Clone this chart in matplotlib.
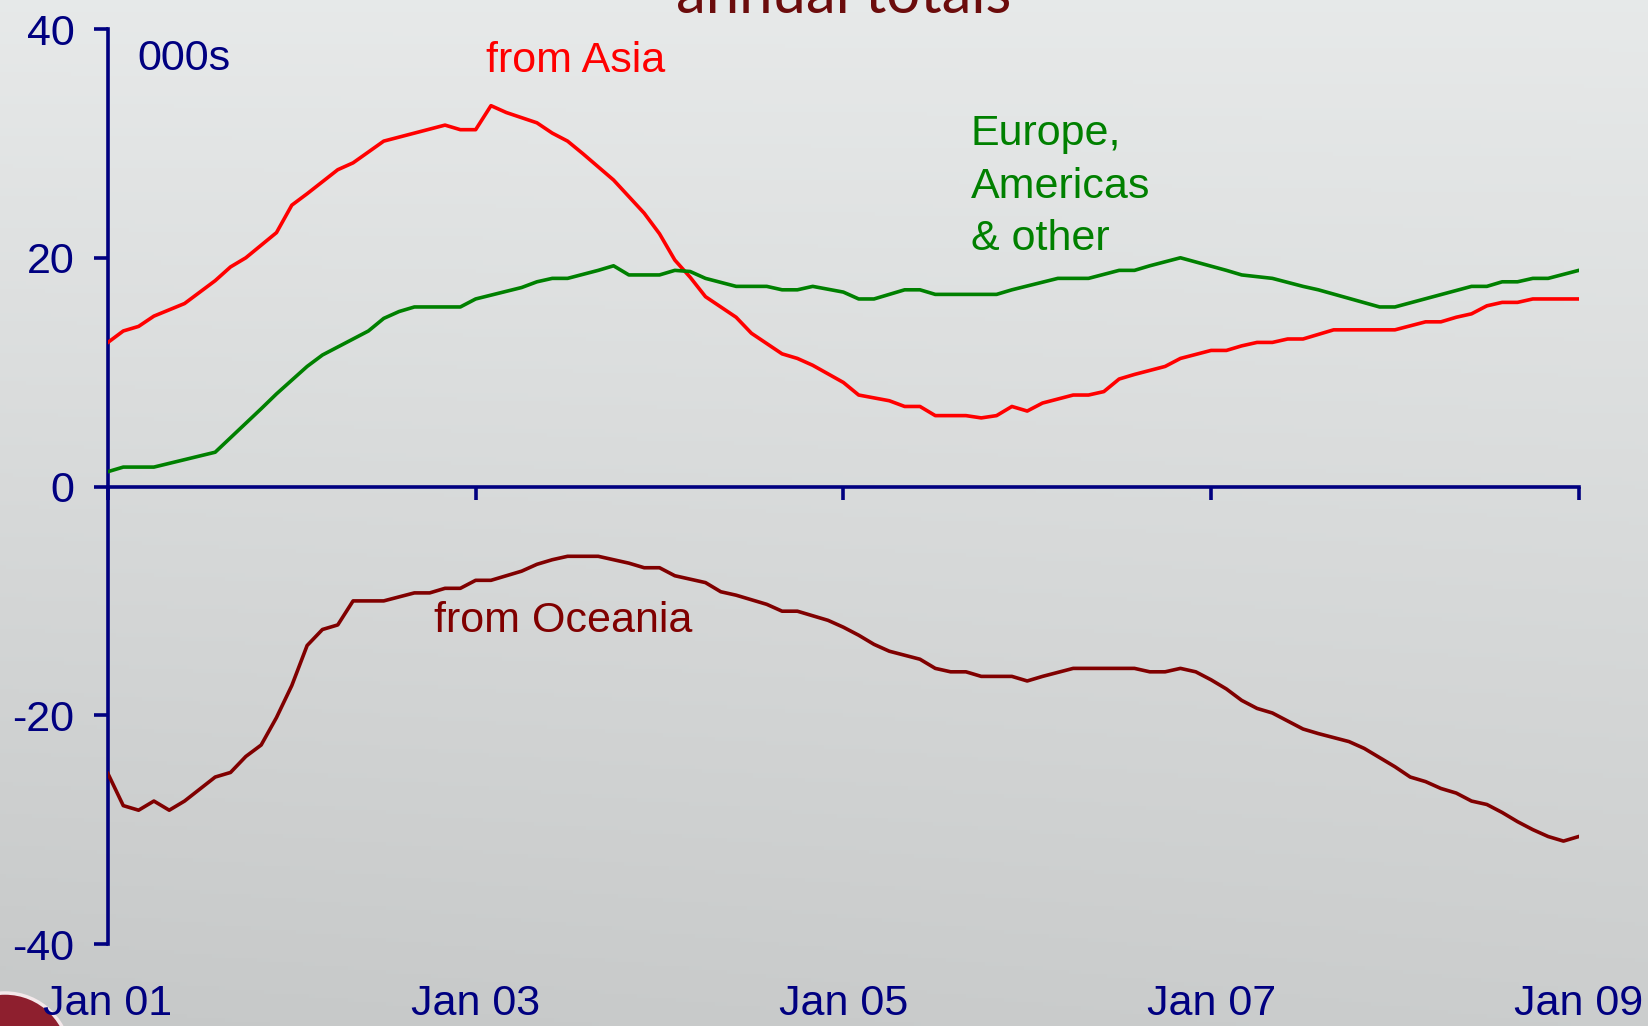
"""
Migration flows by source region, annual totals (000s), Jan 01 - Jan 09.
Recreated slide chart with matplotlib.
"""

import numpy as np
import matplotlib
matplotlib.use("Agg")
import matplotlib.pyplot as plt
from matplotlib.patches import Circle

# months since Jan 01, values in thousands
asia_months = [0, 1, 2, 3, 5, 7, 8, 9, 11, 12, 13, 15, 16, 18, 22, 23, 24, 25, 26,
               28, 29, 30, 31, 33, 35, 36, 37, 38, 39, 41, 42, 44, 45, 46, 48, 49,
               51, 52, 53, 54, 56, 57, 58, 59, 60, 61, 63, 64, 65, 66, 67, 69, 70,
               72, 73, 74, 75, 76, 77, 78, 79, 80, 84, 86, 87, 88, 89, 90, 91, 92,
               93, 96]
asia_values = [12.6, 13.6, 14.0, 14.9, 16.0, 18.0, 19.2, 20.0, 22.2, 24.6, 25.6,
               27.7, 28.3, 30.2, 31.6, 31.2, 31.2, 33.3, 32.7, 31.8, 30.9, 30.2,
               29.1, 26.8, 23.9, 22.1, 19.8, 18.3, 16.6, 14.8, 13.4, 11.6, 11.2,
               10.6, 9.1, 8.0, 7.5, 7.0, 7.0, 6.2, 6.2, 6.0, 6.2, 7.0, 6.6, 7.3,
               8.0, 8.0, 8.3, 9.4, 9.8, 10.5, 11.2, 11.9, 11.9, 12.3, 12.6, 12.6,
               12.9, 12.9, 13.3, 13.7, 13.7, 14.4, 14.4, 14.8, 15.1, 15.8, 16.1,
               16.1, 16.4, 16.4]

europe_months = [0, 1, 3, 7, 10, 11, 13, 14, 17, 18, 19, 20, 23, 24, 27, 28, 29,
                 30, 32, 33, 34, 36, 37, 38, 39, 41, 43, 44, 45, 46, 48, 49, 50,
                 52, 53, 54, 58, 59, 62, 64, 66, 67, 68, 70, 73, 74, 76, 78, 79,
                 83, 84, 89, 90, 91, 92, 93, 94, 96]
europe_values = [1.3, 1.7, 1.7, 3.0, 6.8, 8.1, 10.5, 11.5, 13.6, 14.7, 15.3, 15.7,
                 15.7, 16.4, 17.4, 17.9, 18.2, 18.2, 18.9, 19.3, 18.5, 18.5, 18.9,
                 18.8, 18.2, 17.5, 17.5, 17.2, 17.2, 17.5, 17.0, 16.4, 16.4, 17.2,
                 17.2, 16.8, 16.8, 17.2, 18.2, 18.2, 18.9, 18.9, 19.3, 20.0, 18.9,
                 18.5, 18.2, 17.5, 17.2, 15.7, 15.7, 17.5, 17.5, 17.9, 17.9, 18.2,
                 18.2, 18.9]

oceania_months = [0, 1, 2, 3, 4, 5, 7, 8, 9, 10, 11, 12, 13, 14, 15, 16, 18, 20,
                  21, 22, 23, 24, 25, 27, 28, 29, 30, 32, 33, 34, 35, 36, 37, 39,
                  40, 41, 43, 44, 45, 46, 47, 48, 49, 50, 51, 53, 54, 55, 56, 57,
                  59, 60, 61, 63, 64, 67, 68, 69, 70, 71, 72, 73, 74, 75, 76, 78,
                  79, 81, 82, 83, 84, 85, 86, 87, 88, 89, 90, 91, 92, 93, 94, 95, 96]
oceania_values = [-25.1, -27.9, -28.3, -27.5, -28.3, -27.5, -25.4, -25.0, -23.6,
                  -22.6, -20.2, -17.4, -13.9, -12.5, -12.1, -10.0, -10.0, -9.3,
                  -9.3, -8.9, -8.9, -8.2, -8.2, -7.4, -6.8, -6.4, -6.1, -6.1, -6.4,
                  -6.7, -7.1, -7.1, -7.8, -8.4, -9.2, -9.5, -10.3, -10.9, -10.9,
                  -11.3, -11.7, -12.3, -13.0, -13.8, -14.4, -15.1, -15.9, -16.2,
                  -16.2, -16.6, -16.6, -17.0, -16.6, -15.9, -15.9, -15.9, -16.2,
                  -16.2, -15.9, -16.2, -16.9, -17.7, -18.7, -19.4, -19.8, -21.2,
                  -21.6, -22.3, -22.9, -23.7, -24.5, -25.4, -25.8, -26.4, -26.8,
                  -27.5, -27.8, -28.5, -29.3, -30.0, -30.6, -31.0, -30.6]

x_tick_months = [0, 24, 48, 72, 96]
x_tick_labels = ["Jan 01", "Jan 03", "Jan 05", "Jan 07", "Jan 09"]
y_ticks = [-40, -20, 0, 20, 40]

NAVY = "#000080"
FONT = ["Liberation Sans", "DejaVu Sans"]
LW = 2.6


def main():
    plt.rcParams["font.family"] = FONT
    plt.rcParams["axes.unicode_minus"] = False
    fig = plt.figure(figsize=(16.48, 10.26), dpi=100)

    # slide background: soft grey gradient
    bg = fig.add_axes([0, 0, 1, 1], zorder=0)
    yy = np.linspace(0, 1, 256)[:, None]
    xx = np.linspace(0, 1, 256)[None, :]
    shade = 0.915 - 0.13 * yy + 0.02 * xx * yy
    bg.imshow(np.dstack([shade * 0.99, shade, shade]), aspect="auto",
              extent=[0, 1, 0, 1], origin="upper")
    bg.set_axis_off()
    # corner ornament of the slide template
    bg.add_patch(Circle((0.05, -0.32), 0.65, transform=fig.dpi_scale_trans,
                        facecolor="#8e1f2e", edgecolor="#f4e8ea", lw=2.5,
                        clip_on=False, zorder=5))

    ax = fig.add_axes([0.0655, 0.0799, 0.8925, 0.8918], zorder=2)
    ax.patch.set_alpha(0)

    ax.plot(asia_months, asia_values, color="#ff0000", lw=LW, zorder=3)
    ax.plot(europe_months, europe_values, color="#008000", lw=LW, zorder=3)
    ax.plot(oceania_months, oceania_values, color="#800000", lw=LW, zorder=3)

    ax.set_xlim(0, 96)
    ax.set_ylim(-40, 40)

    for side in ["top", "right"]:
        ax.spines[side].set_visible(False)
    ax.spines["bottom"].set_position(("data", 0))
    for side in ["left", "bottom"]:
        ax.spines[side].set_color(NAVY)
        ax.spines[side].set_linewidth(LW)

    ax.set_yticks(y_ticks)
    ax.tick_params(axis="y", colors=NAVY, labelsize=31, length=10, width=LW,
                   pad=14, direction="out")
    ax.set_xticks(x_tick_months)
    ax.tick_params(axis="x", colors=NAVY, length=9, width=LW, direction="out",
                   labelbottom=False)

    # month labels sit below the plot, not on the zero line
    sec = ax.secondary_xaxis(0.0)
    sec.spines["bottom"].set_visible(False)
    sec.set_xticks(x_tick_months)
    sec.set_xticklabels(x_tick_labels)
    sec.tick_params(axis="x", colors=NAVY, labelsize=31, length=0, pad=29)

    ax.text(1.9, 37.4, "000s", color=NAVY, fontsize=31, va="center")
    ax.text(24.7, 37.2, "from Asia", color="#ff0000", fontsize=31, va="center")
    ax.text(56.3, 26.2, "Europe,\nAmericas\n& other", color="#008000", fontsize=31,
            va="center", linespacing=1.4)
    ax.text(21.3, -11.8, "from Oceania", color="#800000", fontsize=31, va="center")

    fig.text(0.512, 0.987, "annual totals", color="#6b0c0c", fontsize=43,
             family=["Lato", "DejaVu Sans"], ha="center", va="baseline", zorder=3)

    fig.savefig("out.png", dpi=100)
    plt.close(fig)


if __name__ == "__main__":
    main()
